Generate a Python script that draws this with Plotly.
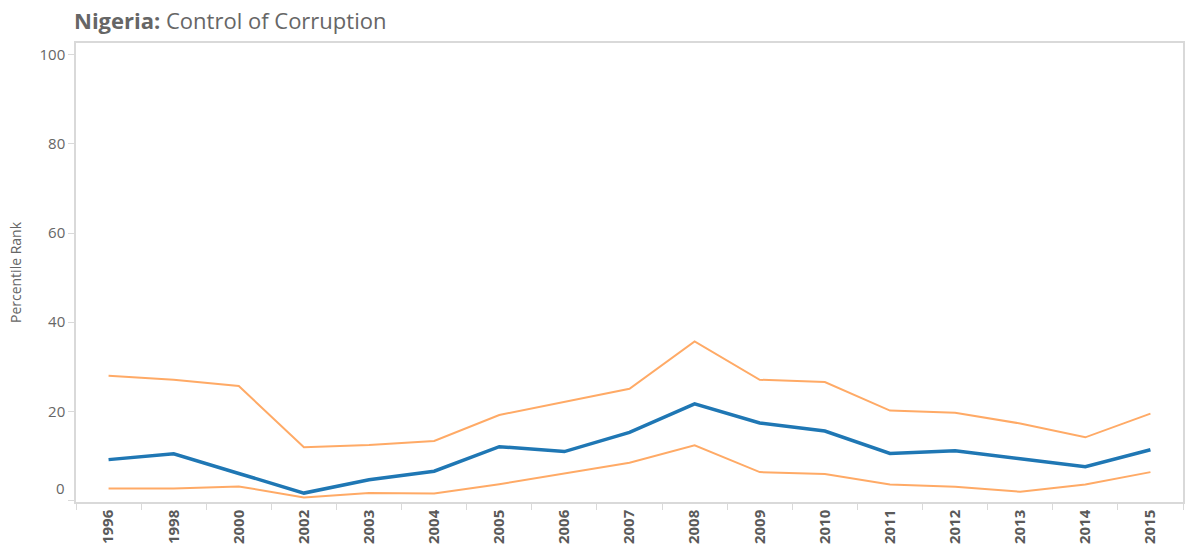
import plotly.graph_objects as go

years = ["1996", "1998", "2000", "2002", "2003", "2004", "2005", "2006", "2007",
         "2008", "2009", "2010", "2011", "2012", "2013", "2014", "2015"]
rank = [9.2, 10.5, 6.1, 1.7, 4.7, 6.6, 12.1, 11.0, 15.3, 21.7, 17.4, 15.6, 10.6, 11.2, 9.4, 7.6, 11.4]
upper = [28.0, 27.1, 25.7, 12.0, 12.5, 13.4, 19.2, 22.2, 25.1, 35.7, 27.1, 26.6, 20.2, 19.7, 17.3, 14.2, 19.5]
lower = [2.7, 2.7, 3.2, 0.7, 1.7, 1.6, 3.7, 6.1, 8.5, 12.4, 6.4, 6.0, 3.6, 3.1, 2.0, 3.6, 6.4]
y_ticks = [0, 20, 40, 60, 80, 100]

ORANGE = "#ffaa66"
BLUE = "#1f77b4"
GRAY = "#666666"
FONT = "Open Sans, Noto Sans, sans-serif"

W, H = 1192, 551

fig = go.Figure()
fig.add_trace(go.Scatter(x=years, y=upper, mode="lines", line=dict(color=ORANGE, width=2),
                         name="Upper", hoverinfo="x+y"))
fig.add_trace(go.Scatter(x=years, y=lower, mode="lines", line=dict(color=ORANGE, width=2),
                         name="Lower", hoverinfo="x+y"))
fig.add_trace(go.Scatter(x=years, y=rank, mode="lines", line=dict(color=BLUE, width=3.5),
                         name="Percentile Rank", hoverinfo="x+y"))

fig.update_layout(
    width=W, height=H,
    margin=dict(l=76, r=9, t=43, b=49, autoexpand=False),
    paper_bgcolor="white", plot_bgcolor="white",
    showlegend=False,
    font=dict(family=FONT, color=GRAY),
    xaxis=dict(
        type="category", categoryorder="array", categoryarray=years,
        range=[-0.5, len(years) - 0.5],
        automargin=False,
        showgrid=False, zeroline=False,
        showline=True, linecolor="#d9d9d9", linewidth=1.5, mirror=True,
        ticks="outside", tickson="boundaries", ticklen=6, tickcolor="#d9d9d9",
        tickangle=-90,
        tickfont=dict(size=15, color="#5a5a5a", family=FONT, weight="bold"),
    ),
    yaxis=dict(
        range=[-0.3, 102.6],
        automargin=False,
        tickvals=y_ticks, ticktext=["" if v == 0 else str(v) for v in y_ticks],
        showgrid=False, zeroline=False,
        showline=True, linecolor="#d9d9d9", linewidth=1.5, mirror=True,
        ticks="outside", ticklen=6, tickcolor="#d9d9d9",
        tickfont=dict(size=15, color=GRAY, family=FONT),
        title=dict(text="Percentile Rank", font=dict(size=14, color=GRAY, family=FONT), standoff=15),
    ),
)

fig.add_annotation(x=0, xref="paper", y=1, yref="paper",
                   text="<b>Nigeria:</b> Control of Corruption",
                   showarrow=False, xanchor="left", yanchor="bottom", yshift=6, xshift=-4,
                   font=dict(size=22, color="#666666", family=FONT))

fig.add_annotation(x=0, xref="paper", y=y_ticks[0], yref="y", text=str(y_ticks[0]),
                   showarrow=False, xanchor="right", xshift=-9, yshift=13,
                   font=dict(size=15, color=GRAY, family=FONT))

fig.write_html("out.html", config={"displayModeBar": False},
               post_script="document.body.style.margin='0px';document.body.style.overflow='hidden';")
